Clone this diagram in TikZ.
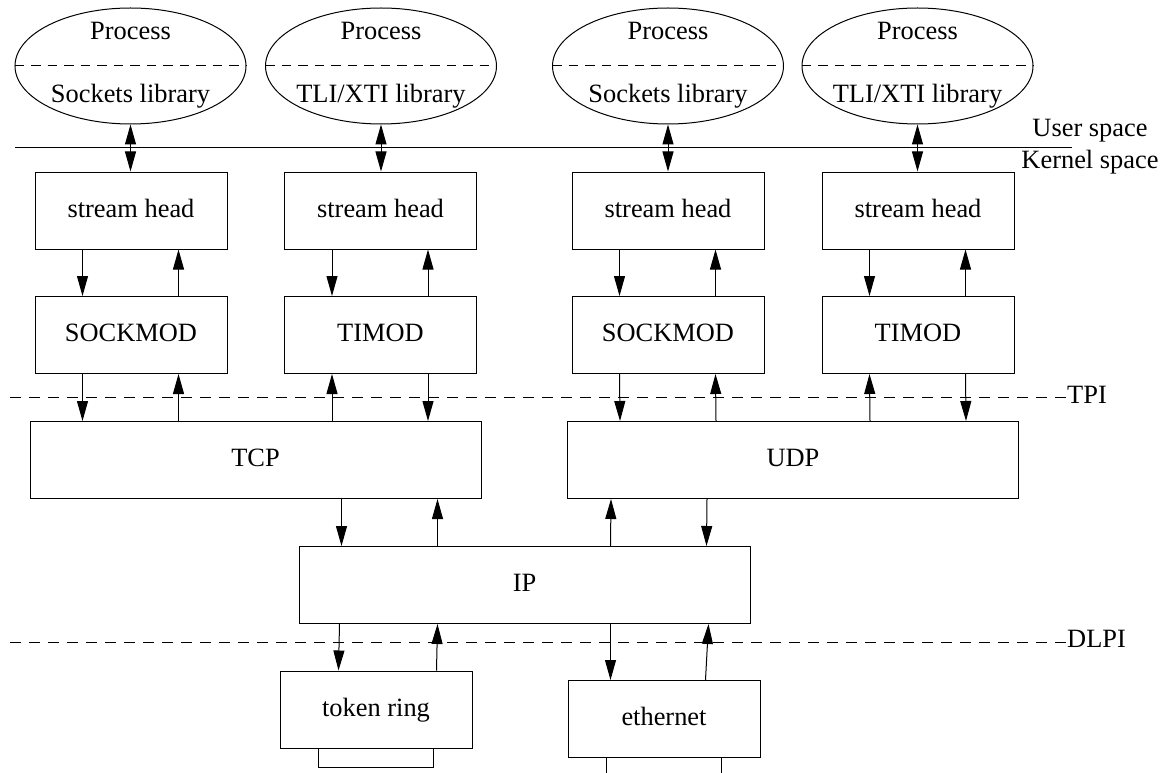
\documentclass[tikz,border=0pt]{standalone}
\usepackage{fontspec}
\setmainfont{Liberation Serif}
\usetikzlibrary{arrows.meta,shapes.geometric,calc}
\begin{document}
\begin{tikzpicture}[x=1pt,y=-1pt,
  every node/.style={font=\fontsize{26.4}{30}\selectfont},
  box/.style={draw, line width=1pt, inner sep=0pt, minimum height=77pt,
    text height=18pt, text depth=5pt},
  small/.style={box, minimum width=192pt},
  wide/.style={box, minimum width=451pt},
  proc/.style={draw, ellipse, line width=1pt, minimum width=231pt,
    minimum height=116pt, inner sep=0pt},
  arr/.style={line width=1pt, -{Triangle[length=20pt,width=11pt]}},
  darr/.style={line width=1pt,
    {Triangle[length=20pt,width=11pt]}-{Triangle[length=20pt,width=11pt]}},
  iface/.style={line width=1pt, dash pattern=on 11pt off 8pt},
  split/.style={line width=1pt, dash pattern=on 9.5pt off 7pt},
  plain/.style={line width=1pt},
]
\useasboundingbox (0,0) rectangle (1162,773);

% user processes with their libraries
\foreach \n/\x/\lib in {1/130.5/{Sockets library}, 2/381/{TLI/XTI library},
                        3/668/{Sockets library}, 4/917.5/{TLI/XTI library}}{
  \node[proc] (p\n) at (\x,66) {};
  \draw[split] (p\n.west) -- (p\n.east);
  \node[anchor=base] (p\n t) at (\x,40) {Process};
  \node[anchor=base] (p\n b) at (\x,103) {\lib};
}

% user / kernel boundary
\coordinate (uk1) at (15,148);
\coordinate (uk2) at (1072,148);
\draw[plain] (uk1) -- (uk2);
\node[anchor=base] (us) at (1090,137) {User space};
\node[anchor=base] (ks) at (1090,168) {Kernel space};

% stream heads and modules
\node[small] (sh1) at (131,210.5) {stream head};
\node[small] (sh2) at (380.5,210.5) {stream head};
\node[small] (sh3) at (668,210.5) {stream head};
\node[small] (sh4) at (918,210.5) {stream head};
\node[small] (mod1) at (131,335) {SOCKMOD};
\node[small] (mod2) at (380.5,335) {TIMOD};
\node[small] (mod3) at (668,335) {SOCKMOD};
\node[small] (mod4) at (918,335) {TIMOD};

% transport, network and drivers
\node[wide] (tcp) at (255.5,460) {TCP};
\node[wide] (udp) at (793,460) {UDP};
\node[wide] (ip) at (524.5,585) {IP};
\node[small] (tr) at (376,709.5) {token ring};
\node[small] (eth) at (664,719) {ethernet};

% TPI and DLPI boundaries
\coordinate (tpi1) at (10,397);
\coordinate (tpi2) at (1067,397);
\draw[iface] (tpi1) -- (tpi2);
\node[anchor=base west, inner sep=0pt] (tpi) at (1067,403) {TPI};
\coordinate (dl1) at (10,642);
\coordinate (dl2) at (1067,642);
\draw[iface] (dl1) -- (dl2);
\node[anchor=base west, inner sep=0pt] (dlpi) at (1067,647) {DLPI};

% process <-> stream head, stream head <-> module
\foreach \n in {1,2,3,4}{
  \draw[darr] (p\n.south) -- (p\n.south |- sh\n.north);
  \draw[arr] ($(sh\n.south west)+(48,0)$) -- ($(mod\n.north west)+(48,0)$);
  \draw[arr] ($(mod\n.north west)+(144,0)$) -- ($(sh\n.south west)+(144,0)$);
}

% modules <-> transport
\draw[arr] ($(mod1.south west)+(48,0)$) -- ($(tcp.north west)+(53,0)$);
\draw[arr] ($(tcp.north west)+(149,0)$) -- ($(mod1.south west)+(144,0)$);
\draw[arr] ($(tcp.north west)+(302.5,0)$) -- ($(mod2.south west)+(48,0)$);
\draw[arr] ($(mod2.south west)+(144,0)$) -- ($(tcp.north west)+(398.5,0)$);
\draw[arr] ($(mod3.south west)+(48,0)$) -- ($(udp.north west)+(53,0)$);
\draw[arr] ($(udp.north west)+(149,0)$) -- ($(mod3.south west)+(144,0)$);
\draw[arr] ($(udp.north west)+(303,0)$) -- ($(mod4.south west)+(48,0)$);
\draw[arr] ($(mod4.south west)+(144,0)$) -- ($(udp.north west)+(399,0)$);

% transport <-> IP
\draw[arr] ($(tcp.south west)+(312,0)$) -- ($(ip.north west)+(43,0)$);
\draw[arr] ($(ip.north west)+(139,0)$) -- ($(tcp.south west)+(408,0)$);
\draw[arr] ($(ip.north west)+(312,0)$) -- ($(udp.south west)+(44,0)$);
\draw[arr] ($(udp.south west)+(140,0)$) -- ($(ip.north west)+(408,0)$);

% IP <-> drivers
\draw[arr] ($(ip.south west)+(41,0)$) -- ($(tr.north west)+(59,0)$);
\draw[arr] ($(tr.north west)+(157,0)$) -- ($(ip.south west)+(139,0)$);
\draw[arr] ($(ip.south west)+(312,0)$) -- ($(eth.north west)+(43,0)$);
\draw[arr] ($(eth.north west)+(138,0)$) -- ($(ip.south west)+(410,0)$);

% media attachments
\draw[plain] ($(tr.south)+(-58,0)$) -- ++(0,19) -- ++(115,0) -- ++(0,-19);
\draw[plain] ($(eth.south)+(-58,0)$) -- ++(0,16);
\draw[plain] ($(eth.south)+(57,0)$) -- ++(0,16);
\end{tikzpicture}
\end{document}
